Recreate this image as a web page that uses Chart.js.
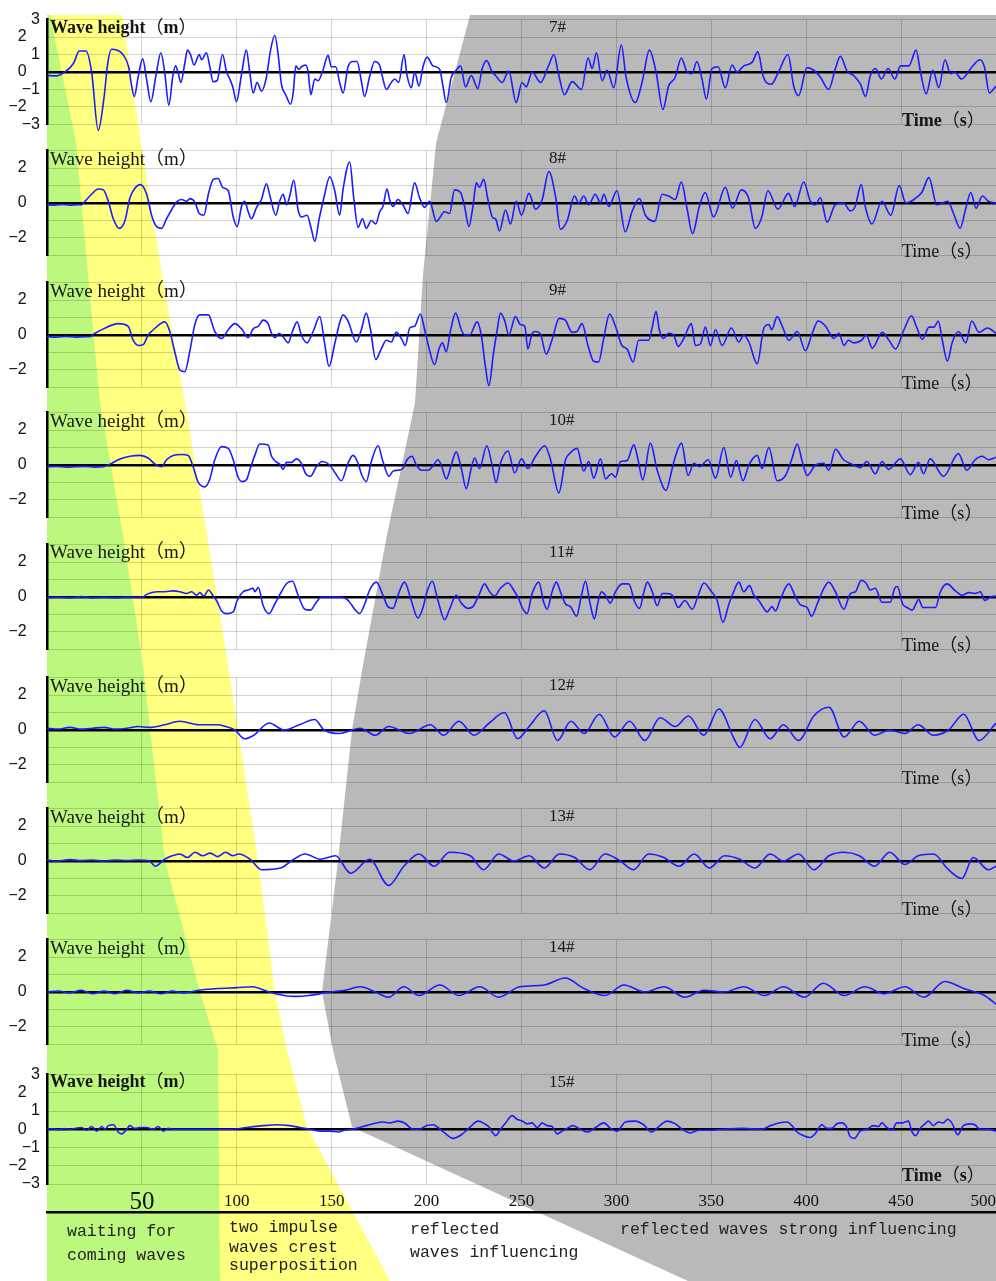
<!DOCTYPE html>
<html><head><meta charset="utf-8">
<script src="https://cdn.jsdelivr.net/npm/chart.js@4.4.1/dist/chart.umd.min.js"></script>
<style>
html,body{margin:0;padding:0;background:#fff}
#page{position:relative;width:996px;height:1281px;overflow:hidden}
#page canvas{position:absolute;left:0}
.t{position:absolute;white-space:nowrap;line-height:1;transform:translateY(-50%);color:#161616;font-family:"Liberation Serif","Noto Sans CJK SC",serif}
.t .p{font-family:"Noto Sans CJK SC";font-weight:normal}
.m{position:absolute;white-space:nowrap;line-height:1;transform:translateY(-50%);color:#222;font-family:"Liberation Mono","DejaVu Sans Mono",monospace;font-size:16.5px}
</style></head>
<body><div id="page"><canvas id="bg" width="996" height="1281" style="top:0"></canvas></div>
<script>
// ---- wave height records, [time (s), height (m)] per gauge ----
const gauge7 = [[0,-0.2],[5,-0.22],[10,0.05],[14,0.5],[17,1.2],[20.5,1.2],[23.5,0],[27,-3.35],[30,-1.5],[32,0.5],[34,1.3],[37,1.25],[40,1.0],[43,0.3],[44.6,-0.8],[46,-1.4],[48,-0.3],[50.4,0.75],[52.6,-0.5],[54.7,-1.7],[57.4,-0.2],[60,1.1],[62,0],[64.2,-1.9],[66.2,-0.3],[67.7,0.35],[69,0],[70.5,-0.6],[72.6,0.5],[74,1.25],[75.6,1.0],[77.5,0.4],[80.2,1.0],[81.5,0.7],[84,1.1],[85.8,0.3],[87.5,-0.55],[89.6,-0.5],[92.5,1.0],[94.6,0],[96.3,-0.4],[98,-0.9],[99.8,-1.7],[102.4,-0.2],[105,1.25],[106.8,0],[108.6,-1.2],[110.7,-0.6],[113,-1.1],[115.6,-0.3],[117.7,1.2],[120,2.1],[121.8,1.0],[123.5,-0.7],[125.8,-1.3],[128.3,-1.85],[129.7,-1.2],[131.1,0.35],[132.7,0.15],[134.1,0.3],[136.2,0.4],[137.6,0],[139,-1.3],[141.1,-0.4],[142.8,-0.5],[145.1,0],[148.1,0.95],[149.8,0.3],[152.1,0.3],[154.2,-0.6],[156,-1.2],[158.6,0.3],[161.2,0.6],[163.3,0.6],[165.6,-0.5],[167.3,-1.4],[169.9,-0.3],[172.6,0.6],[175.2,0.4],[177,-0.4],[178.8,-1.0],[181.4,-0.6],[183.2,-0.4],[185.3,-0.6],[188.1,1.0],[189.7,-0.2],[192,-0.9],[193.7,0],[196,-0.8],[198.1,0.3],[200.2,0.85],[203.4,0.35],[206.9,0.15],[208.6,-0.8],[210.4,-1.75],[213,-0.3],[215.6,0.1],[217.9,0.35],[220.5,-0.85],[223.5,-0.2],[227,-0.95],[229.3,0.2],[231.7,0.65],[234.5,0],[236.3,-0.2],[239.8,-0.6],[243.3,0.05],[247.2,-1.75],[250.3,-0.6],[252.5,-0.85],[255.6,0],[260,-0.6],[264.4,0.4],[267.1,1.0],[269.3,0],[272.6,-1.3],[276.7,-0.55],[281.6,-1.0],[285.1,0.8],[287.2,0.2],[289.5,1.1],[292.5,-0.5],[295.1,0.1],[298.6,-0.9],[302.6,1.55],[305.1,-0.3],[310,-1.75],[313.5,-0.6],[317.4,1.25],[320.9,0],[324.5,-2.15],[327.5,-0.8],[331,-0.3],[334.2,0.8],[337.2,0],[339.8,-0.1],[342.4,0.6],[345.1,-0.4],[347.4,-1.55],[350.4,0.2],[353.6,0.3],[357.4,-0.9],[360.9,0.4],[363.6,0],[367.1,0.35],[371.5,0.55],[374.5,1.15],[377.5,-0.3],[381.6,-0.7],[385.4,0],[390.4,1.0],[393.4,-0.8],[396,-1.35],[400.4,0.25],[404,0.1],[407.5,-0.3],[411.8,-1.0],[415.4,0.2],[418,0.9],[421.5,0.05],[425,-0.2],[428.6,-0.7],[431.2,-1.4],[433.8,-0.2],[436.5,0.2],[439.6,-0.4],[443.2,0.2],[446.7,-0.4],[449.7,0.35],[454.1,0.35],[457.9,1.25],[460.2,0],[463.2,-1.25],[466.7,0.1],[469.9,-0.9],[473.1,0.7],[476.1,-0.1],[478.3,0],[481.8,-0.4],[487.4,0.3],[491.5,0.7],[493.9,0.3],[496.5,-1.2],[500,-0.8]];
const gauge8 = [[0,-0.1],[4,-0.12],[8,-0.08],[12,-0.12],[16,-0.1],[18.3,-0.1],[20,0.1],[23.5,0.5],[27,0.8],[29.7,0.75],[32.3,0.1],[34.9,-0.9],[38.1,-1.45],[41.1,-1.0],[43.7,0.3],[46.3,0.85],[49.3,1.05],[52.5,0.5],[55.1,-0.7],[57.4,-1.3],[60.4,-1.45],[63,-0.9],[65.6,-0.4],[68.2,0.05],[70.9,0.2],[73.5,0.1],[75.3,0.25],[77.9,0.05],[80.2,-0.6],[82.7,-0.7],[85,0.5],[87.6,1.35],[90.2,1.4],[92.5,0.9],[95.5,0.7],[98.1,-0.8],[100.2,-1.35],[102.5,-0.2],[104.2,0.1],[106,-0.5],[107.7,-0.9],[110.4,-0.25],[113,0.2],[115.6,1.1],[117.7,0.3],[120.5,-0.7],[122.6,0.1],[124.4,0.5],[126.2,-0.1],[127.9,0.4],[130,1.3],[132.3,-0.4],[134.1,-0.8],[137,-0.7],[139.3,-1.5],[141.1,-2.2],[143.4,-0.9],[145.9,0.3],[149,1.5],[151.6,0.7],[154.2,-0.7],[156,0.8],[159.5,2.35],[161.6,0.3],[163.9,-1.4],[166.2,-0.9],[168.2,-1.45],[170.9,-1.0],[173.2,-1.2],[175.3,-0.5],[177,-0.2],[179.1,0.8],[180.5,0.2],[182.3,-0.2],[184.9,0.2],[187.5,-0.1],[190.2,-0.6],[193.7,1.15],[196.3,0.3],[198.9,-0.25],[201.6,0.1],[205.1,-1.05],[209.5,-0.5],[212.1,-0.6],[214.7,0.75],[217.9,0.6],[220,-0.2],[222.3,-1.35],[224.4,-0.2],[226.2,1.15],[227.9,0.9],[230.1,1.35],[232.3,0.2],[234.9,-0.85],[236.3,-0.9],[238.4,-1.6],[241.6,-0.4],[244.2,-1.2],[247.2,0.1],[250,-0.7],[253.9,0.55],[257.4,-0.35],[260.9,0.2],[264.4,1.8],[267.9,0.4],[270.5,-1.5],[274.1,-1.0],[277.9,0.4],[280.2,0],[282.8,0.4],[285.4,-0.1],[288.9,0.5],[291.6,0],[293.4,0.5],[296,-0.2],[300.3,0.7],[304.7,-1.65],[308.2,-0.5],[312.1,0.25],[315.3,-0.7],[320.2,-1.05],[324.1,0.5],[327.5,0.4],[331,0.2],[334.2,1.2],[337.2,-0.3],[340.1,-1.75],[343.7,-0.2],[346.8,0.6],[351.2,-0.8],[357.4,0.9],[361.2,-0.3],[365.8,0.75],[369.6,0.3],[373.2,-1.45],[376.6,-0.8],[379.8,0.7],[385.1,-0.35],[390.7,0.55],[393.9,-0.2],[398.7,1.2],[402.2,0.1],[404.8,-0.1],[407.5,0.3],[411,-1.1],[415.3,-0.1],[419.7,0],[423.2,-0.45],[425.8,-0.2],[429,1.05],[431.1,-0.2],[434.6,-1.2],[439.9,0.1],[444.6,-0.7],[449,1.0],[452.5,0],[455.3,0.1],[457.8,0.3],[460.9,0.6],[464.7,1.45],[468.8,-0.1],[474.6,0.1],[477.6,-0.6],[481.1,-1.45],[484.1,-0.3],[486.7,0.6],[489.5,-0.3],[492.8,0.4],[496,0.1],[500,0]];
const gauge9 = [[0,-0.1],[5,-0.12],[10,-0.08],[15,-0.12],[20,-0.1],[22.6,-0.1],[25.3,0.1],[29.7,0.35],[37.5,0.65],[42.8,0.5],[45.4,-0.3],[48.1,-0.6],[50.7,-0.55],[53.3,0],[56,0.3],[62.1,0.75],[64.7,0.2],[67.4,-1.0],[70,-2.0],[72.6,-2.1],[75.3,-0.9],[77.9,0.6],[80.5,1.15],[85,1.15],[88.4,0.2],[92,-0.2],[95.5,0.3],[99,0.65],[102.5,0.35],[106,-0.15],[108.6,0.35],[111.3,0.5],[113.9,0.85],[116.5,0.65],[118.3,0.1],[120,-0.15],[122.3,0.1],[124.4,-0.1],[127,-0.45],[129.3,0.2],[131.8,0.75],[134,0],[137,-0.45],[140.2,0.2],[143.7,1.05],[146.3,-0.5],[148.6,-1.8],[151.6,-0.5],[154.2,0.7],[156,1.15],[158.6,0.8],[163,-0.4],[165.6,0.3],[168.2,1.25],[170.3,0.4],[173.2,-1.4],[176.1,-0.8],[178.8,-0.3],[181.4,-0.4],[184,0.15],[186.7,-0.2],[188.8,-0.6],[191.1,0.4],[193.7,0.5],[196.7,1.2],[199,0.3],[201.6,-0.9],[204.2,-1.7],[206.5,-0.8],[208.3,-0.45],[210.4,-0.95],[212.5,0.2],[215.3,1.25],[218.3,0.3],[220.1,0],[222.7,0],[226.6,0.75],[228.8,0],[231.1,-1.9],[232.8,-2.9],[235.3,-1.0],[237.2,0.3],[238.9,1.25],[241.2,0.8],[243.3,0],[246.8,1.05],[249.4,0.6],[251.7,0.5],[253.4,-0.8],[255.6,0.1],[257.4,0.2],[260,0.05],[263,-1.1],[266,-0.3],[269.9,0.95],[273.1,0.85],[276.6,0.15],[279.2,0.2],[281.9,0.65],[285,-0.6],[288,-1.5],[290.6,-1.55],[293.3,-0.2],[296.4,1.2],[299.5,0.5],[302.9,-0.6],[305.6,-0.8],[308.8,-1.55],[311.7,-0.3],[314.4,-0.3],[317,-0.3],[318.8,0.4],[320.9,1.35],[322.6,0.3],[324.9,-0.2],[327.5,0.1],[330.2,0],[332.5,-0.65],[335.5,-0.2],[339.5,0.65],[341.6,-0.6],[344.3,-0.5],[346.9,0.45],[349.5,-0.6],[352.2,0.3],[355.7,-0.6],[360.6,0.4],[364.5,-0.4],[367.1,0],[369.8,-0.4],[374.2,-1.65],[377.7,0.4],[380.4,0.6],[381.8,0.3],[384.7,1.05],[387.4,0.5],[390.9,-0.3],[395.3,0.2],[399.6,-0.9],[403.2,0.1],[406.3,0.8],[410.2,0.5],[414.6,-0.2],[417.2,0.1],[419.9,-0.6],[422.2,-0.3],[425.1,-0.45],[429.2,-0.3],[431.6,0],[434.8,-0.75],[440.1,0.15],[443.6,-0.3],[447.1,-0.8],[451.5,0.3],[455.5,1.1],[458,0.5],[461.2,-0.25],[464.7,0.45],[467.3,0.45],[469.6,0.8],[471.7,-0.3],[474.4,-1.5],[477,-0.4],[480.2,0.2],[484.1,-0.45],[487.2,0.8],[491.1,0.15],[495.5,0.4],[500,0.1]];
const gauge10 = [[0,-0.1],[5,-0.08],[10,-0.12],[15,-0.1],[20,-0.08],[25,-0.12],[29.7,-0.1],[33.2,0.05],[38.5,0.35],[43.7,0.5],[49,0.55],[53.3,0.4],[56.9,0.05],[60.4,-0.1],[63,0.3],[66.5,0.55],[70.9,0.6],[74.4,0.55],[76.7,0],[79.7,-1.0],[83.2,-1.25],[85.8,-0.8],[88.4,0.3],[92,1.05],[95.5,0.95],[98.1,0.3],[100.7,-0.7],[103,-0.95],[105.1,-0.85],[106.8,-0.3],[109.5,0.55],[112.1,1.2],[116.5,1.15],[118.3,0.5],[120.5,0.2],[122.6,0.05],[124.4,-0.25],[126.2,0.15],[128.8,0.15],[131.4,0.35],[134,0.1],[136.3,-0.5],[138.8,-0.65],[141.9,-0.1],[145.1,0.2],[148.9,0],[152.1,-0.5],[155.1,-0.9],[158.6,0.1],[161.2,0.55],[163.9,0.1],[165.6,-0.5],[168.2,-0.95],[170.9,0.2],[174.4,1.1],[177,0.2],[180.2,-0.65],[182.3,-0.35],[184.9,-0.3],[187.5,-0.2],[189.7,0.3],[192.3,0.5],[194.6,0],[197.2,-0.3],[200.7,-0.3],[203.4,-0.05],[206,0.3],[207.7,0],[210.4,-0.8],[213,0],[215.6,0.75],[218.3,-0.2],[220.9,-1.35],[223.5,-0.2],[225.3,0.4],[227.9,-0.2],[231.7,1.1],[234.5,0],[236.6,-1.0],[238.9,0.1],[242.9,0.8],[246.4,-0.45],[250,0.35],[253.4,-0.2],[257.4,0.5],[262.3,1.1],[265.3,0.3],[269.7,-1.6],[273.2,0.3],[275.8,0.7],[279.3,0.95],[282.8,-0.35],[285.4,0.2],[288.1,-0.75],[291.6,0.35],[294.3,-0.8],[297.4,-0.5],[299.5,-0.7],[302.2,0.2],[305.6,0.25],[309.2,1.15],[311.4,0.3],[313.9,-0.85],[317.9,1.25],[321.5,-0.3],[326.2,-1.45],[329.4,-0.2],[331.1,0.5],[334.3,1.25],[337.8,-0.6],[340.8,0.1],[343.8,-0.1],[348.4,0.3],[352.2,-0.75],[356.6,1.0],[360.2,-0.7],[363.2,0.25],[366.7,-0.9],[369.8,0],[374.2,0.55],[376.8,-0.2],[380.3,1.0],[384.7,-0.9],[389.1,-0.6],[392.3,0.3],[395.3,1.2],[397.9,0.2],[400.5,-0.6],[404.9,0],[409.3,0.1],[411.9,-0.3],[415.4,0.9],[419.7,0.3],[424.1,0.05],[428.5,-0.15],[432,0.2],[436.4,-0.5],[439.9,0.2],[443.4,-0.25],[449.6,0.35],[454.8,-0.55],[459.2,0.15],[461.8,-0.5],[465.3,0.35],[472.3,-0.65],[480.2,0.65],[484.6,-0.3],[489,0.3],[492.8,0.5],[496,0.3],[500,0.45]];
const gauge11 = [[0,-0.05],[6,0],[12,-0.05],[18,0.02],[24,-0.05],[30,0],[36,-0.05],[42,0],[48,-0.03],[50.7,0],[52.5,0.15],[57.8,0.3],[62,0.3],[66.5,0.35],[70,0.3],[73.5,0.2],[76.2,0.3],[78.8,0.1],[80.5,0.25],[82.7,0.05],[85,0.4],[87.6,0.05],[89.3,-0.2],[92,-0.8],[94.6,-0.95],[98.1,-0.85],[100.2,-0.2],[103.3,0.3],[106,0.4],[108.6,0.5],[109.5,0.3],[111.3,0.55],[113.9,-0.5],[117,-0.95],[120,-0.4],[123.5,0.3],[126.5,0.8],[129.3,0.9],[132.3,0.1],[135.8,-0.7],[138.8,-0.75],[141.9,-0.3],[144.6,0],[148.9,0],[152.4,0],[156.8,-0.05],[159.5,-0.3],[162.1,-0.7],[164.7,-0.95],[167.4,-0.4],[170,0.4],[173.5,0.85],[177,0.1],[179.6,-0.55],[182.3,-0.65],[184.9,0.1],[188.4,0.85],[191.9,-0.2],[195.4,-1.2],[198.1,-0.6],[200.2,0.3],[203,0.9],[206,-0.2],[209.5,-1.3],[212.1,-0.7],[215.6,0.1],[218.3,-0.35],[221.8,-0.65],[224.4,-0.55],[227.9,0.2],[230.5,0.75],[233.2,0.3],[235.8,0.05],[238.9,0.5],[242.9,0.8],[246.4,0.3],[248.5,-0.1],[250.3,-0.6],[252.9,-0.95],[255.6,0.2],[259.1,0.85],[261.7,-0.3],[263.5,-0.7],[266.1,0.3],[268.4,0.85],[270.5,0.3],[273.2,-0.4],[275.8,-0.55],[279,-1.1],[281.6,0.1],[283.7,0.9],[286,-0.3],[288.4,-1.25],[290.3,-0.3],[292.1,0.3],[294.2,0.1],[296.8,-0.35],[299.5,0.3],[303,0.75],[306.5,0.75],[309.7,-0.3],[312.2,-0.65],[314.5,0.3],[316.3,0.85],[318.9,0.3],[321.5,-0.5],[324.2,0.2],[326.8,0.2],[329.5,0.1],[332.6,-0.6],[336.1,-0.2],[340,-0.7],[343.1,0.1],[346.1,0.8],[350.1,0.3],[353.1,-0.2],[356.1,-1.45],[359.3,-0.4],[361.4,0.2],[364.5,0.85],[367.1,0.3],[370.1,0.65],[372.4,0.1],[375,-0.2],[376.8,-0.5],[379.4,-0.85],[382,-0.55],[383.8,-0.8],[386.5,-0.1],[390.8,0.75],[394.4,0],[397,-0.45],[400.5,-0.6],[402.8,-1.1],[405.8,-0.4],[409.3,0.5],[411.9,0.85],[415.4,0.3],[419.8,-0.7],[423.3,0.2],[425.9,0.3],[429,0.95],[431.5,0.8],[433.8,0.4],[436.4,0.5],[439.9,-0.3],[444.3,-0.3],[446.6,0.5],[448,0.6],[450.8,-0.4],[453.1,-0.6],[455.8,-0.75],[459.3,-0.15],[461.4,-0.6],[468.1,-0.6],[470.7,0.3],[474.2,0.75],[478.6,0.35],[482.1,0.1],[485.6,0.25],[489.1,0.2],[491.8,0.3],[494.1,-0.2],[497.1,0],[500,0.05]];
const gauge12 = [[0,0.1],[6,0.05],[12,0.15],[18,0.05],[24,0.1],[30,0.15],[36,0.05],[42,0.1],[48,0.2],[54,0.15],[62,0.3],[70,0.5],[80,0.3],[90,0.3],[94,0.2],[99,0],[104,-0.5],[109,-0.3],[117,0.4],[125,0],[133,0.3],[141,0.6],[146,0],[154,-0.2],[165,0.1],[173,-0.3],[180,0.2],[191,-0.2],[202,0.3],[209,-0.3],[217,0.5],[225,-0.3],[233,0.4],[241,1.0],[248,-0.5],[254,0.2],[262,1.1],[269,-0.6],[276,0.5],[283,-0.2],[291,0.9],[299,-0.4],[307,0.5],[315,-0.6],[323,0.7],[331,0.2],[338,0.8],[346,-0.3],[354,1.2],[362,-0.5],[365,-1.0],[373,0.6],[381,-0.5],[388,0.3],[396,-0.6],[404,0.8],[412,1.3],[420,-0.4],[428,0.5],[436,-0.3],[444,0],[452,-0.2],[459,0.3],[467,-0.3],[475,0],[483,0.9],[491,-0.6],[500,0.4]];
const gauge13 = [[0,0.05],[6,0],[12,0.08],[18,0.02],[24,0.06],[30,0],[36,0.05],[42,0.03],[48,0.06],[54,0],[57,-0.3],[62,0.1],[66,0.3],[70,0.4],[74,0.2],[78,0.5],[82,0.3],[86,0.45],[90,0.25],[94,0.5],[98,0.3],[101,0.4],[107,0.1],[113,-0.5],[123,-0.4],[130,0.1],[136,0.4],[144,0.1],[152,0.3],[160,-0.7],[170,0.1],[180,-1.4],[188,-0.3],[196,0.4],[204,-0.3],[212,0.5],[223,0.3],[230,-0.5],[238,0.4],[246,0],[254,0.3],[262,-0.4],[270,0.4],[278,0.2],[286,-0.5],[294,0.4],[302,0],[309,-0.5],[317,0.4],[325,0.2],[333,-0.3],[341,0.4],[349,-0.4],[357,0.3],[365,0.1],[373,-0.4],[381,0.4],[388,0],[396,0.4],[404,-0.5],[412,0.3],[420,0.5],[428,0.3],[436,-0.3],[444,0.5],[452,-0.2],[459,0.3],[467,0.4],[475,-0.5],[482,-1.0],[488,0.2],[496,-0.5],[500,-0.3]];
const gauge14 = [[0,0],[6,0.05],[12,-0.05],[18,0.1],[24,-0.1],[30,0.05],[36,-0.1],[42,0.1],[48,-0.05],[54,0.05],[60,-0.1],[66,0.05],[72,-0.05],[80,0.1],[90,0.2],[100,0.25],[108,0.3],[112,0.2],[117,0],[125,-0.2],[131,-0.25],[138,-0.2],[149,0],[157,0.1],[165,0.3],[173,0],[180,-0.3],[188,0.3],[196,-0.2],[207,0.4],[217,-0.2],[228,0.3],[238,-0.3],[249,0.3],[262,0.4],[273,0.8],[283,0.2],[294,-0.2],[304,0.4],[315,0],[325,0.3],[336,-0.3],[346,0.1],[357,0],[367,0.3],[378,-0.2],[388,0.3],[399,-0.3],[409,0.5],[420,-0.2],[431,0.3],[441,-0.1],[452,0.3],[462,-0.3],[473,0.6],[483,0.2],[494,-0.2],[500,-0.7]];
const gauge15 = [[0,0],[3,0.03],[6,-0.02],[9,0.04],[12,0],[15,0.05],[18.2,0.1],[20.9,-0.05],[23.5,0.15],[26.2,-0.1],[28.8,0.15],[30.6,0],[32.3,0.2],[35,0.25],[37.5,-0.15],[39.3,-0.25],[42,0],[43.7,0.2],[46.3,0.05],[49,0.1],[52.5,0.1],[56,0],[58.6,0.15],[61.3,-0.1],[63.9,0.05],[66.5,0],[75,0],[89.3,0],[98.1,0],[105.1,0.1],[113.9,0.2],[120.9,0.25],[127.9,0.2],[133.2,0.1],[138.4,0],[143.7,-0.1],[149,-0.1],[153.3,-0.15],[156.8,-0.05],[161.2,0],[166.5,0.15],[171.8,0.3],[177,0.4],[180.5,0.35],[184.9,0.45],[188.4,0.35],[192.8,0],[196.3,0],[199.8,0.2],[203.4,0.25],[206,0.1],[209.5,-0.2],[213.9,-0.5],[218.3,-0.3],[222.7,0.1],[227.1,0.45],[230.6,0.3],[233.2,0.1],[234.9,-0.2],[236.5,-0.35],[238.9,0],[241.6,0.35],[245.1,0.75],[247.7,0.55],[250.4,0.45],[253,0.3],[255.6,0.35],[258.3,0.1],[260.9,0.35],[263.5,0.2],[266.1,0.15],[268.8,-0.25],[271.4,-0.1],[274,0.05],[277,0.2],[280.2,0.05],[284.6,-0.15],[289,0.1],[293.4,0.35],[296.9,0.05],[300.4,-0.1],[304.7,0.4],[310,0.45],[314.4,0.25],[318.4,-0.15],[322.3,0.15],[326.7,0.45],[331.1,0.3],[334.6,0],[339,-0.2],[343.4,-0.05],[348.7,-0.05],[355.7,0],[366.2,0.05],[376.7,0],[381.1,0.2],[385.5,0.35],[389.9,0.4],[392.5,0.2],[395.1,-0.15],[398.6,-0.35],[402.1,-0.45],[404.7,-0.25],[408.2,0.25],[410.9,0.05],[413.5,0.05],[416.1,0.3],[418.8,0.35],[421.4,0.1],[423.1,-0.4],[425.4,-0.5],[428.4,-0.1],[431.9,0],[435.4,0.2],[438.1,0.15],[439.9,0.35],[442.5,0.1],[445.1,-0.05],[447.8,0.35],[450.4,0.35],[453.9,0.45],[455.6,-0.1],[457.7,-0.35],[460,0.05],[462.6,0.3],[464.4,0.45],[467,0.2],[469.6,0.4],[472.3,0.35],[474.5,0.55],[477,0.3],[479.8,-0.3],[482.8,0.2],[486.3,0.3],[488.9,0.25],[491.6,0],[496,0],[500,-0.1]];

const gaugeNames = ['7#','8#','9#','10#','11#','12#','13#','14#','15#'];
const gaugeSeries = [gauge7,gauge8,gauge9,gauge10,gauge11,gauge12,gauge13,gauge14,gauge15];
const timeRange = [0, 500];
const heightRange = [-3, 3];

// phase boundaries: [time (s), page y] along each outline
const greenEdge  = [[1.6,15],[15.3,143],[21.6,275],[27.9,403],[40,535],[50.6,665],[54.3,730],[62.2,861],[80.6,992],[90.1,1050],[91.1,1281]];
const yellowEdge = [[39.5,15],[49.5,143],[60.6,275],[72.7,403],[84.3,535],[95.4,665],[100.6,730],[111.2,861],[120.1,992],[126.4,1050],[137,1127],[161.2,1212],[180.7,1281]];
const grayEdge   = [[222.9,15],[205,143],[198.1,275],[193.9,403],[179.1,535],[166.5,665],[160.7,730],[153.3,861],[144.9,992],[150.7,1050],[160.7,1127],[337.7,1281]];

// ---- layout ----
const zeroY = [72, 203.3, 335, 465, 596.7, 730, 861, 992, 1126.7];
const HALF = 57, PADT = 12, PADB = 12, XAXIS_H = 30;
const GRID = 'rgba(0,0,0,0.17)';
const MINUS = '\u2212';
const page = document.getElementById('page');

function yLabel(v, full) {
  if (!full && (v % 2 !== 0 || Math.abs(v) === 3)) return '';
  const s = v < 0 ? MINUS + (-v) : String(v);
  return v % 2 === 0 ? s + '   ' : s;
}

function makePanel(i) {
  const last = i === gaugeSeries.length - 1;
  const full = i === 0 || last;
  const cv = document.createElement('canvas');
  cv.width = 996;
  cv.height = PADT + 2 * HALF + (last ? XAXIS_H + 2 : PADB);
  cv.style.top = (zeroY[i] - HALF - PADT) + 'px';
  page.appendChild(cv);
  return new Chart(cv, {
    type: 'line',
    data: { datasets: [{
      data: gaugeSeries[i].map(([x, y]) => ({ x, y })),
      borderColor: '#1c1cff', borderWidth: 1.6, pointRadius: 0,
      cubicInterpolationMode: 'monotone', clip: false
    }] },
    options: {
      responsive: false, animation: false, devicePixelRatio: 1, events: [],
      layout: { padding: { top: PADT, bottom: last ? 2 : PADB, left: 0, right: 0 } },
      plugins: { legend: { display: false }, tooltip: { enabled: false } },
      scales: {
        x: {
          type: 'linear', min: timeRange[0], max: timeRange[1],
          afterFit: s => { s.height = last ? XAXIS_H : 0; s.paddingLeft = 0; s.paddingRight = 0; },
          grid: { color: GRID, lineWidth: 1, drawTicks: false },
          border: { display: false },
          ticks: {
            display: last, stepSize: 50, autoSkip: false, align: 'inner', padding: 3, color: '#111',
            font: c => ({ family: '"Liberation Serif", serif', size: (c.tick && c.tick.value === 50) ? 25 : 17, lineHeight: '30px' }),
            callback: v => v === 0 ? '' : String(v)
          }
        },
        y: {
          min: heightRange[0], max: heightRange[1],
          afterFit: s => { s.width = 47; },
          grid: {
            color: c => c.tick.value === 0 ? '#000' : GRID,
            lineWidth: c => c.tick.value === 0 ? 2.5 : 1,
            drawTicks: false
          },
          border: { color: '#000', width: 2.5 },
          ticks: {
            stepSize: 1, autoSkip: false, padding: 7, color: '#111',
            font: { family: '"Liberation Sans", Arial, sans-serif', size: 16 },
            callback: v => yLabel(v, full)
          }
        }
      }
    }
  });
}

const charts = gaugeSeries.map((_, i) => makePanel(i));

// ---- phase regions behind the panels ----
const xs = charts[0].scales.x;
const px = t => xs.getPixelForValue(t);
const bg = document.getElementById('bg').getContext('2d');
function fillPoly(pts, color) {
  bg.beginPath();
  pts.forEach(([x, y], k) => k ? bg.lineTo(x, y) : bg.moveTo(x, y));
  bg.closePath();
  bg.fillStyle = color;
  bg.fill();
}
const left = px(0), right = px(500);
fillPoly([[left, 15], ...yellowEdge.map(([t, y]) => [px(t), y]), [left, 1281]], 'rgb(255,255,128)');
fillPoly([[left, 15], ...greenEdge.map(([t, y]) => [px(t), y]), [left, 1281]], 'rgb(188,248,126)');
fillPoly([[right, 15], ...grayEdge.map(([t, y]) => [px(t), y]), [right, 1281]], 'rgb(185,185,185)');
bg.fillStyle = '#000';
bg.fillRect(left - 1, 1211, right - left + 1, 2.5);

// ---- text ----
function addText(cls, html, x, y, css) {
  const d = document.createElement('div');
  d.className = cls;
  d.innerHTML = html;
  d.style.left = x + 'px';
  d.style.top = y + 'px';
  Object.assign(d.style, css || {});
  page.appendChild(d);
}
const OPEN = '<span class="p">（</span>', CLOSE = '<span class="p">）</span>';
gaugeNames.forEach((name, i) => {
  const strong = i === 0 || i === gaugeNames.length - 1;
  const top = zeroY[i] - HALF, bottom = zeroY[i] + HALF;
  addText('t', 'Wave height' + OPEN + 'm' + CLOSE, 50, top + 10.5,
          { fontSize: strong ? '18px' : '19px', fontWeight: strong ? 'bold' : 'normal' });
  addText('t', name, 549, top + 11, { fontSize: '17px' });
  addText('t', 'Time' + OPEN + 's' + CLOSE, 902, bottom - 10,
          { fontSize: '18px', fontWeight: strong ? 'bold' : 'normal' });
});
addText('m', 'waiting for', 67, 1232);
addText('m', 'coming waves', 67, 1256);
addText('m', 'two impulse', 229, 1228);
addText('m', 'waves crest', 229, 1247.5);
addText('m', 'superposition', 229, 1266);
addText('m', 'reflected', 410, 1230);
addText('m', 'waves influencing', 410, 1253);
addText('m', 'reflected waves strong influencing', 620, 1229.5);
</script></body></html>
